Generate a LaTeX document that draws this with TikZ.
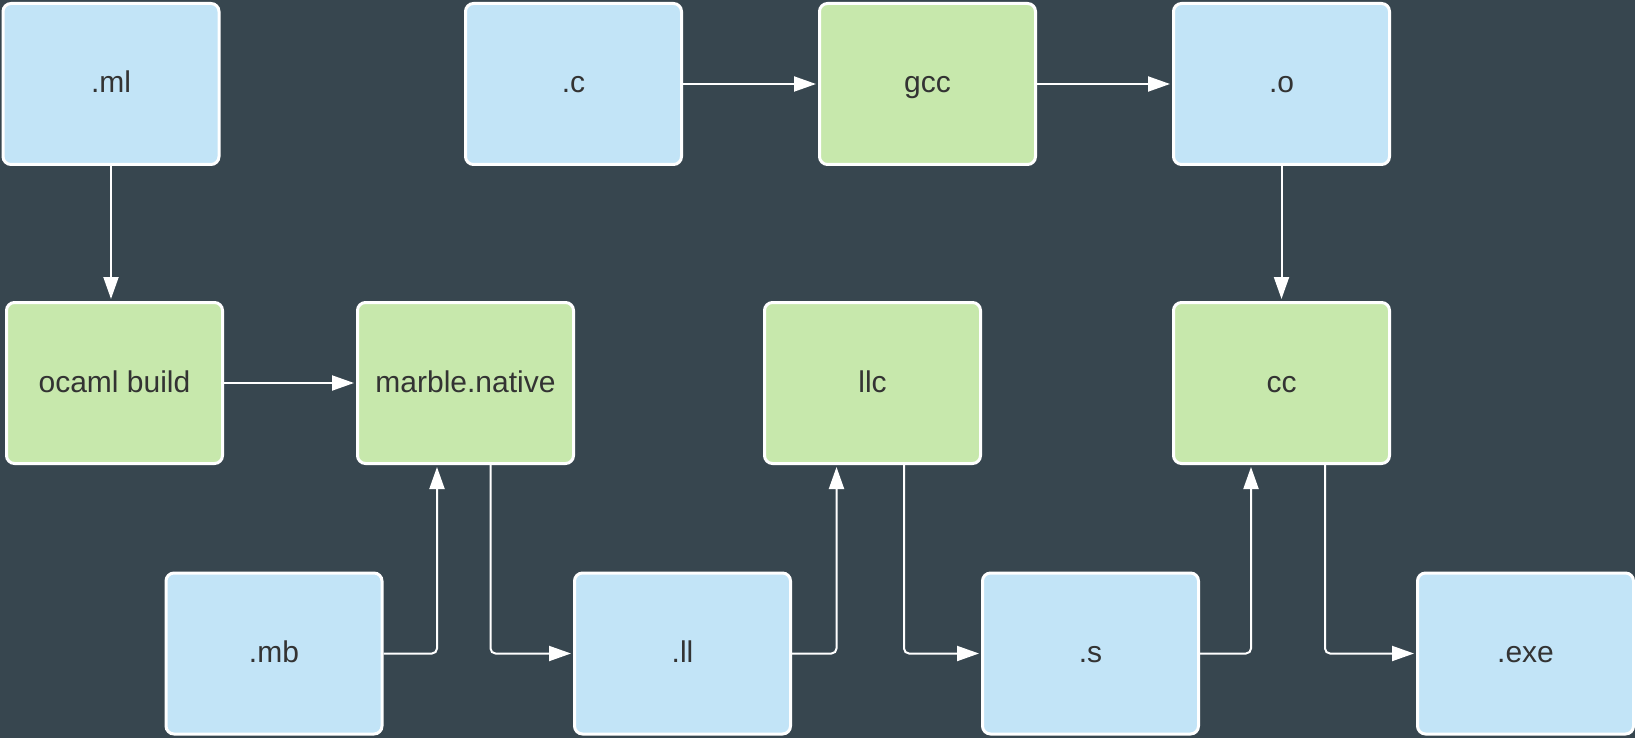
\documentclass[tikz,border=0pt]{standalone}
\usepackage{fontspec}
\setmainfont{Liberation Sans}
\usetikzlibrary{arrows.meta,calc}
\definecolor{bgslate}{HTML}{37464F}
\definecolor{filebox}{HTML}{C2E4F7}
\definecolor{toolbox}{HTML}{C7E8AC}
\definecolor{labeltext}{HTML}{333333}
\tikzset{
  box/.style={rectangle, rounded corners=8pt, draw=white, line width=3pt,
    minimum width=216pt, minimum height=161pt, inner sep=0pt,
    text height=24pt, text depth=6pt,
    text=labeltext, font=\fontsize{30}{36}\selectfont},
  filenode/.style={box, fill=filebox},
  toolnode/.style={box, fill=toolbox},
  flow/.style={draw=white, line width=2pt, rounded corners=5pt,
    -{Triangle[length=22pt,width=15pt]}, shorten >=2pt}
}
\begin{document}
\begin{tikzpicture}[x=1pt,y=-1pt]
  \fill[bgslate] (0,0) rectangle (1635,738);
  \useasboundingbox (0,0) rectangle (1635,738);

  % top row
  \node[filenode] (ml)  at (111,84)    {.ml};
  \node[filenode] (c)   at (573.5,84)  {.c};
  \node[toolnode] (gcc) at (927.5,84)  {gcc};
  \node[filenode] (o)   at (1281.5,84) {.o};

  % middle row
  \node[toolnode] (ob)  at (114.5,383)  {ocaml build};
  \node[toolnode] (mn)  at (465.5,383)  {marble.native};
  \node[toolnode] (llc) at (872.5,383)  {llc};
  \node[toolnode] (cc)  at (1281.5,383) {cc};

  % bottom row
  \node[filenode] (mb)  at (274,653.5)    {.mb};
  \node[filenode] (ll)  at (682.5,653.5)  {.ll};
  \node[filenode] (s)   at (1090.5,653.5) {.s};
  \node[filenode] (exe) at (1525.5,653.5) {.exe};

  % connectors
  \draw[flow] (ml.south) -- (ml.south |- ob.north);
  \draw[flow] (ob.east) -- (mn.west);
  \draw[flow] (c.east) -- (gcc.west);
  \draw[flow] (gcc.east) -- (o.west);
  \draw[flow] (o.south) -- (cc.north);

  \draw[flow] (mb.east) -| ($(mn.south)+(-28.5,0)$);
  \draw[flow] ($(mn.south)+(25,0)$) |- (ll.west);
  \draw[flow] (ll.east) -| ($(llc.south)+(-36,0)$);
  \draw[flow] ($(llc.south)+(31.5,0)$) |- (s.west);
  \draw[flow] (s.east) -| ($(cc.south)+(-30.5,0)$);
  \draw[flow] ($(cc.south)+(43.5,0)$) |- (exe.west);
\end{tikzpicture}
\end{document}
